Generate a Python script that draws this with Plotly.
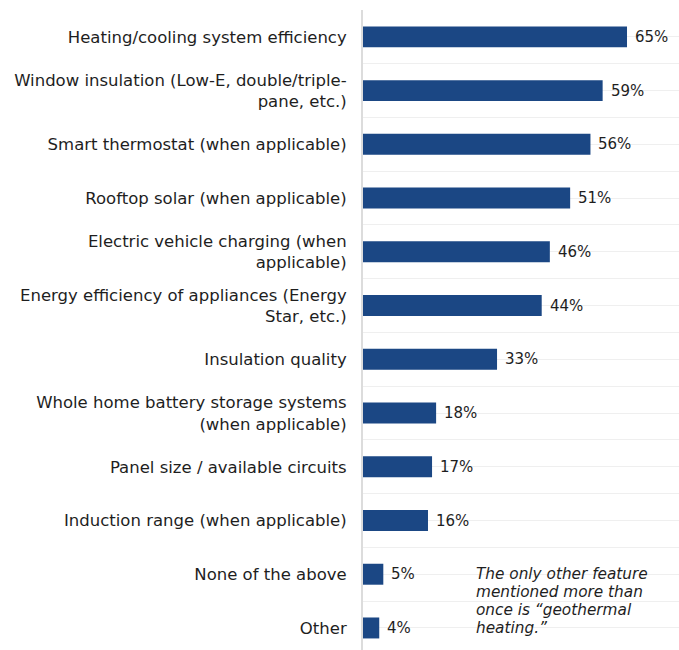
import plotly.graph_objects as go

# Survey features, top to bottom
categories = [
    "Heating/cooling system efficiency",
    "Window insulation (Low-E, double/triple-<br>pane, etc.)",
    "Smart thermostat (when applicable)",
    "Rooftop solar (when applicable)",
    "Electric vehicle charging (when<br>applicable)",
    "Energy efficiency of appliances (Energy<br>Star, etc.)",
    "Insulation quality",
    "Whole home battery storage systems<br>(when applicable)",
    "Panel size / available circuits",
    "Induction range (when applicable)",
    "None of the above",
    "Other",
]
values = [65, 59, 56, 51, 46, 44, 33, 18, 17, 16, 5, 4]
value_labels = [f"{v}%" for v in values]
note_lines = [
    "The only other feature",
    "mentioned more than",
    "once is \u201cgeothermal",
    "heating.\u201d",
]

positions = list(range(len(categories)))

FONT = "DejaVu Sans"
BAR = "#1b4784"
GRID = "#efefef"
TEXT = "#1e1e1e"

fig = go.Figure(
    go.Bar(
        x=values,
        y=positions,
        orientation="h",
        width=0.39,
        marker=dict(color=BAR, line=dict(width=0)),
        hoverinfo="skip",
    )
)

# value labels just right of each bar end
annotations = [
    dict(
        x=v, y=p, xref="x", yref="y",
        text=lab, showarrow=False,
        xanchor="left", yanchor="middle", xshift=6,
        font=dict(family=FONT, size=15, color=TEXT),
    )
    for v, p, lab in zip(values, positions, value_labels)
]

# italic side note, one annotation per line for tight spacing
PLOT_TOP, PLOT_H = 10, 640
for k, line in enumerate(note_lines):
    y_px = 574 + 18 * k
    annotations.append(
        dict(
            xref="paper", yref="paper",
            x=(474 - 363) / 316, y=(PLOT_TOP + PLOT_H - y_px) / PLOT_H,
            xanchor="left", yanchor="middle", align="left",
            showarrow=False,
            text=f"<i>{line}</i>",
            font=dict(family=FONT, size=15.3, color=TEXT),
        )
    )

fig.update_layout(
    width=679,
    height=650,
    margin=dict(l=363, r=0, t=PLOT_TOP, b=0, autoexpand=False),
    plot_bgcolor="white",
    paper_bgcolor="white",
    showlegend=False,
    font=dict(family=FONT, size=16.5, color=TEXT),
    xaxis=dict(
        range=[0, 77.8],
        showticklabels=False,
        showgrid=False,
        zeroline=False,
        fixedrange=True,
    ),
    yaxis=dict(
        range=[11.41, -0.5],
        tickmode="array",
        tickvals=positions,
        ticktext=categories,
        ticks="",
        ticklabelstandoff=11,
        showgrid=True,
        gridcolor=GRID,
        gridwidth=1,
        zeroline=False,
        showline=True,
        linecolor="#dcdcdc",
        linewidth=2,
        automargin=False,
        minor=dict(
            tickmode="array",
            tickvals=[p - 0.5 for p in positions] + [positions[-1] + 0.5],
            showgrid=True,
            gridcolor=GRID,
            gridwidth=1,
            ticks="",
        ),
        tickfont=dict(family=FONT, size=16.5, color=TEXT),
    ),
    annotations=annotations,
)

fig.write_html("out.html")
